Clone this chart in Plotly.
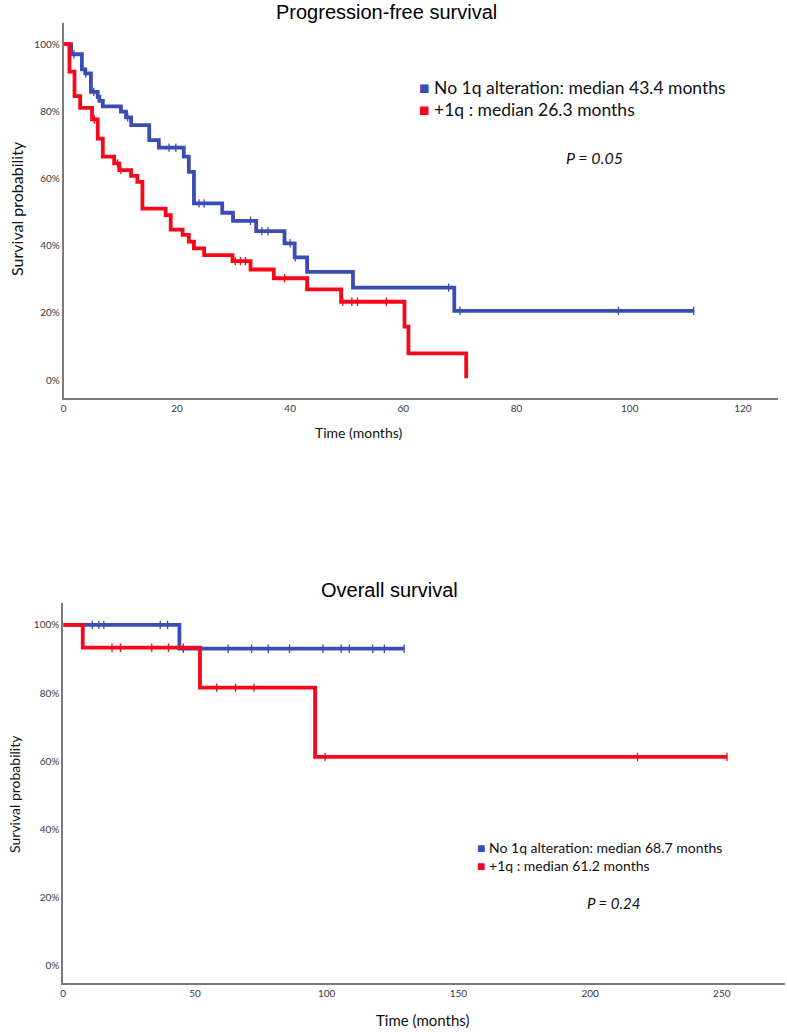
import plotly.graph_objects as go

# ---------------- Data ----------------
# Progression-free survival (months, survival %)
pfs_no1q_t = [0, 1.3, 3.2, 3.8, 4.8, 6.0, 6.3, 6.9, 10.1, 11.0, 11.9, 15.1, 16.8, 21.2, 22.1, 23.0,
              28.0, 29.9, 34.0, 39.0, 40.8, 43.0, 51.1, 69.0, 111.3]
pfs_no1q_s = [100, 97.0, 92.5, 91.3, 85.8, 84.3, 83.1, 81.5, 79.9, 78.2, 75.9, 71.4, 69.2, 66.5, 62.0, 52.6,
              49.8, 47.4, 44.3, 40.7, 36.5, 32.2, 27.5, 20.6, 20.6]
pfs_no1q_cens_t = [1.8, 3.9, 5.3, 11.3, 18.6, 19.8, 23.9, 24.8, 33.0, 35.0, 36.1, 40.0, 40.9, 68.0, 70.0, 98.0, 111.3]
pfs_no1q_cens_s = [97.0, 91.3, 85.8, 78.2, 69.2, 69.2, 52.6, 52.6, 47.4, 44.3, 44.3, 40.7, 36.5, 27.5, 20.6, 20.6, 20.6]

pfs_1q_t = [0, 1.0, 1.9, 2.9, 5.0, 6.0, 6.9, 8.9, 9.8, 11.9, 13.0, 13.9, 18.0, 18.9, 21.0, 22.1, 23.0,
            24.8, 29.8, 33.0, 37.1, 43.0, 49.0, 60.2, 60.9, 71.1]
pfs_1q_s = [100, 91.8, 84.5, 81.0, 77.6, 71.9, 66.5, 64.5, 62.5, 60.8, 59.0, 51.0, 49.1, 44.8, 43.2, 41.2, 39.2,
            37.2, 35.4, 32.9, 30.3, 27.0, 23.3, 15.9, 7.9, 0.5]
pfs_1q_cens_t = [5.4, 9.5, 10.1, 30.3, 31.2, 32.1, 39.0, 49.3, 50.9, 51.9, 57.0]
pfs_1q_cens_s = [77.6, 64.5, 62.5, 35.4, 35.4, 35.4, 30.3, 23.3, 23.3, 23.3, 23.3]

# Overall survival
os_no1q_t = [0, 44.1, 129.4]
os_no1q_s = [100, 93.0, 93.0]
os_no1q_cens_t = [11.0, 13.5, 15.4, 36.8, 39.6, 45.6, 62.6, 71.5, 77.8, 85.9, 98.6, 105.5, 108.6, 117.5, 121.9, 129.4]
os_no1q_cens_s = [100, 100, 100, 100, 100, 93.0, 93.0, 93.0, 93.0, 93.0, 93.0, 93.0, 93.0, 93.0, 93.0, 93.0]

os_1q_t = [0, 7.4, 51.9, 95.6, 252.0]
os_1q_s = [100, 93.3, 81.6, 61.3, 61.3]
os_1q_cens_t = [18.5, 21.7, 33.6, 39.9, 45.6, 58.2, 65.4, 72.4, 99.4, 218.0, 252.0]
os_1q_cens_s = [93.3, 93.3, 93.3, 93.3, 93.3, 81.6, 81.6, 81.6, 61.3, 61.3, 61.3]

y_ticks = [0, 20, 40, 60, 80, 100]
y_tick_labels = ["0%", "20%", "40%", "60%", "80%", "100%"]
pfs_x_ticks = [0, 20, 40, 60, 80, 100, 120]
os_x_ticks = [0, 50, 100, 150, 200, 250]

BLUE = "#3a4db2"
RED = "#f7071a"
AXIS = "#7a7a7a"
TXT = "#3a3a3a"
FONT = "Lato, 'Open Sans', sans-serif"

fig = go.Figure()

def add_curve(t, s, ct, cs, color, xa, ya):
    fig.add_trace(go.Scatter(x=t, y=s, mode="lines", line=dict(color=color, width=3.8, shape="hv"),
                             xaxis=xa, yaxis=ya, showlegend=False, hoverinfo="skip"))
    fig.add_trace(go.Scatter(x=ct, y=cs, mode="markers",
                             marker=dict(symbol="line-ns", size=6, line=dict(color=color, width=1.3)),
                             xaxis=xa, yaxis=ya, showlegend=False, hoverinfo="skip"))

add_curve(pfs_no1q_t, pfs_no1q_s, pfs_no1q_cens_t, pfs_no1q_cens_s, BLUE, "x", "y")
add_curve(pfs_1q_t, pfs_1q_s, pfs_1q_cens_t, pfs_1q_cens_s, RED, "x", "y")
add_curve(os_no1q_t, os_no1q_s, os_no1q_cens_t, os_no1q_cens_s, BLUE, "x2", "y2")
add_curve(os_1q_t, os_1q_s, os_1q_cens_t, os_1q_cens_s, RED, "x2", "y2")

W, H = 787, 1032
def px(x):
    return x / W
def py(y):
    return 1 - y / H

axis_common = dict(showline=True, linecolor=AXIS, linewidth=2, showgrid=False, zeroline=False,
                   ticks="", tickfont=dict(family=FONT, size=10, color=TXT))

fig.update_layout(
    width=W, height=H, margin=dict(l=0, r=0, t=0, b=0),
    paper_bgcolor="white", plot_bgcolor="white",
    xaxis=dict(domain=[px(61), px(778)], range=[0, 126.2], tickvals=pfs_x_ticks, anchor="y", **axis_common),
    yaxis=dict(domain=[py(398.3), py(23)], range=[-5.45, 106.3], tickvals=y_ticks, ticktext=y_tick_labels,
               anchor="x", **axis_common),
    xaxis2=dict(domain=[px(60.5), px(785)], range=[0, 274], tickvals=os_x_ticks, anchor="y2", **axis_common),
    yaxis2=dict(domain=[py(982.7), py(603)], range=[-4.9, 106.4], tickvals=y_ticks, ticktext=y_tick_labels,
                anchor="x2", **axis_common),
)

def ann(text, x, y, size, family=FONT, color="#111", angle=0, xanchor="center"):
    fig.add_annotation(text=text, x=px(x), y=py(y), xref="paper", yref="paper", showarrow=False,
                       xanchor=xanchor, yanchor="middle", textangle=angle,
                       font=dict(family=family, size=size, color=color))

TITLE_FONT = "'Liberation Sans', Arial, sans-serif"
ann("Progression-free survival", 385, 12, 20, family=TITLE_FONT, color="#000")
ann("Overall survival", 388, 590, 20, family=TITLE_FONT, color="#000")

ann("Time (months)", 357, 432, 14, color="#111")
ann("Survival probability", 13, 208, 16, angle=-90, color="#111")
ann("Time (months)", 421, 1020, 15, color="#111")
ann("Survival probability", 11, 794, 14, angle=-90, color="#111")

# Legends (text)
ann(f"<span style='color:{BLUE}'>■</span> No 1q alteration: median 43.4 months", 416, 87, 17.5, xanchor="left")
ann(f"<span style='color:{RED}'>■</span> +1q : median 26.3 months", 416, 110, 17.5, xanchor="left")
ann("<i>P = 0.05</i>", 594, 157, 16)

ann(f"<span style='color:{BLUE}'>■</span> No 1q alteration: median 68.7 months", 474, 847, 14, xanchor="left")
ann(f"<span style='color:{RED}'>■</span> +1q : median 61.2 months", 474, 865, 14, xanchor="left")
ann("<i>P = 0.24</i>", 613, 903, 15)

fig.write_html("out.html")
